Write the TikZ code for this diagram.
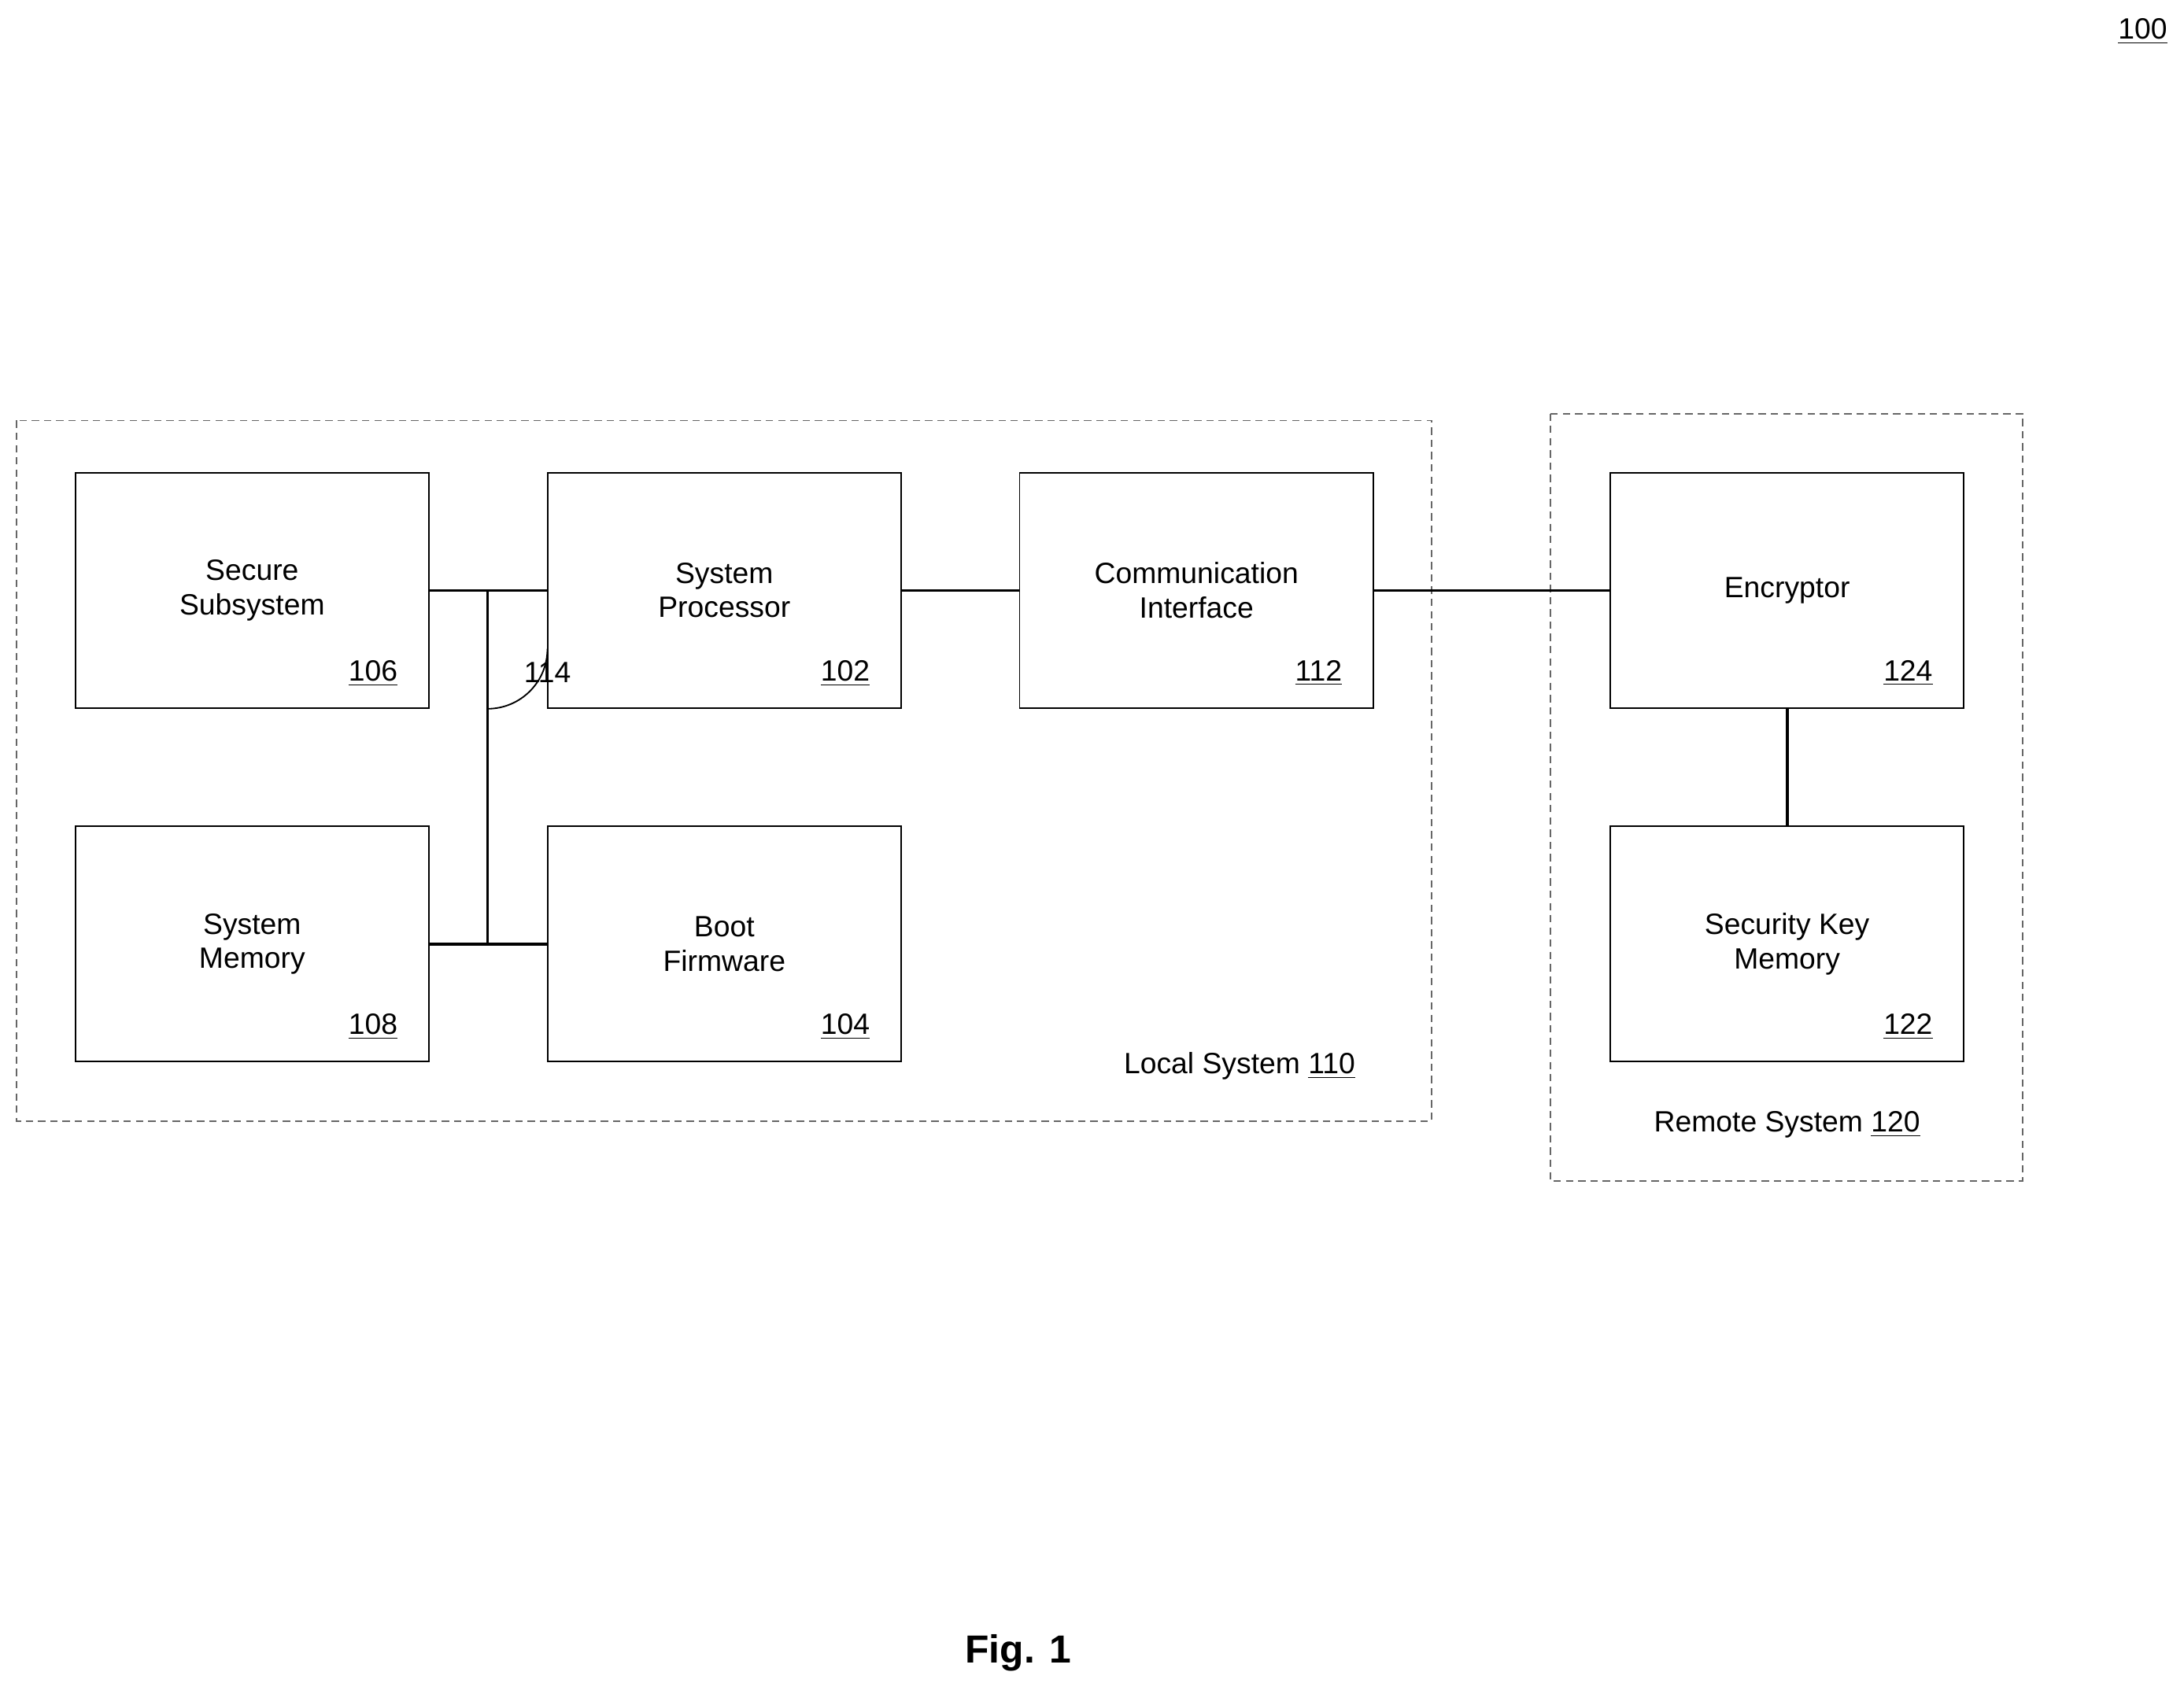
\documentclass[tikz,border=0pt]{standalone}
\usepackage{fontspec}
\setmainfont{Liberation Sans}
\usetikzlibrary{positioning}
\begin{document}
\begin{tikzpicture}[x=0.02cm,y=-0.02cm,line width=1.2pt,font=\fontsize{12}{14}\selectfont]
        % Styles
        \tikzset{block/.style={draw,line width=0.6pt,minimum width=5.08cm,minimum height=3.38cm,align=center,inner sep=0pt},
                 group/.style={draw,line width=0.6pt,dashed,dash pattern=on 3pt off 2pt,gray!80!black},
                 refnum/.style={anchor=base east,inner sep=0pt}}
        \useasboundingbox (0,0) rectangle (1568,1216);
        %groups
        \draw[group] (12,302) rectangle (1028,805);
        \draw[group] (1113,297) rectangle (1452,848);
        %blocks
        \node[block] (secure) at (181,424) {Secure\\Subsystem};
        \node[block] (proc) at (520,424) {System\\Processor};
        \node[block] (comm) at (859,424) {Communication\\Interface};
        \node[block] (enc) at (1283,424) {Encryptor};
        \node[block] (mem) at (181,678) {System\\Memory};
        \node[block] (boot) at (520,678) {Boot\\Firmware};
        \node[block] (key) at (1283,678) {Security Key\\Memory};
        \foreach \n/\t in {secure/106,proc/102,comm/112,enc/124,mem/108,boot/104,key/122}
            \node[refnum] at ([xshift=-0.44cm,yshift=0.4cm]\n.south east) {\underline{\t}};
        %labels
        \node[anchor=base east,inner sep=0pt] at (974,771) {Local System \underline{110}};
        \node[anchor=base,inner sep=0pt] at (1283,813) {Remote System \underline{120}};
        \node[anchor=base east,inner sep=0pt] at (1557,28) {\underline{100}};
        \node[font=\fontsize{16}{18}\selectfont\bfseries] (fig) at (731,1187) {Fig. 1};
        %bus
        \coordinate (bustop) at (350,424);
        \coordinate (busbot) at (350,678);
        \draw (secure.east) -- (proc.west);
        \draw (mem.east) -- (boot.west);
        \draw (bustop) -- (busbot);
        \draw (proc) -- (comm);
        \draw (comm) -- (enc);
        \draw (enc) -- (key);
        \draw[line width=0.6pt] (350,509) arc (90:0:43) node[below=2pt] (bus) {114};
    \end{tikzpicture}
\end{document}
